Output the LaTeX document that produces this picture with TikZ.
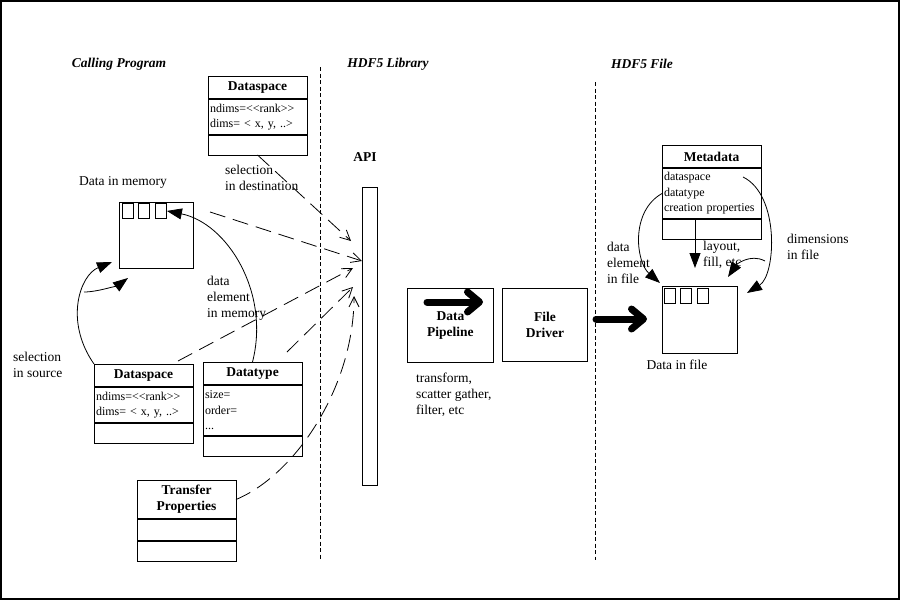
\documentclass[tikz,border=0pt]{standalone}
\usepackage{fontspec}
\setmainfont{Liberation Serif}
\usetikzlibrary{positioning,arrows.meta}

\begin{document}
\begin{tikzpicture}[x=1pt, y=-1pt,
    part/.style={draw, line width=0.9pt, minimum width=99pt, inner sep=2pt, outer sep=0pt},
    title/.style={part, font=\fontsize{13.5}{16}\selectfont\bfseries, align=center},
    attrs/.style={part, font=\fontsize{12}{15.5}\selectfont, align=left, text width=95pt},
    divider/.style={line width=2pt},
    note/.style={inner sep=0pt, font=\fontsize{13.5}{16}\selectfont, align=left},
    heading/.style={inner sep=0pt, font=\fontsize{13.5}{16}\selectfont\bfseries\itshape},
    block/.style={draw, line width=0.9pt, inner sep=0pt, anchor=north west},
    cell/.style={draw, line width=0.9pt, minimum width=11pt, minimum height=15pt, inner sep=0pt, anchor=north west},
    lane/.style={line width=1pt, dash pattern=on 4pt off 2.5pt},
    call/.style={line width=0.8pt, dash pattern=on 16pt off 8pt, -{Straight Barb[length=10pt, width=10pt]}},
    link/.style={line width=0.8pt, -{Triangle[length=15pt, width=11pt]}},
    flow/.style={line width=7pt, line cap=round, -{Straight Barb[length=12pt, width=20pt, round]}}
]
    \useasboundingbox (0,0) rectangle (900,600);
    \draw[line width=2pt] (1,1) rectangle (899,599);

    % lanes
    \node[heading] (hProg) at (119,64) {Calling Program};
    \node[heading] (hLib) at (388,64) {HDF5 Library};
    \node[heading] (hFile) at (642,64) {HDF5 File};
    \coordinate (laneA1) at (320,67);
    \coordinate (laneA2) at (320,560);
    \coordinate (laneB1) at (595,82);
    \coordinate (laneB2) at (595,560);
    \draw[lane] (laneA1) -- (laneA2);
    \draw[lane] (laneB1) -- (laneB2);

    % destination dataspace
    \node[title, minimum height=23pt, anchor=north west] (destT) at (208,76) {Dataspace};
    \node[attrs, minimum height=36pt, below=0pt of destT] (destA) {ndims=<{}<rank>{}>\\dims= < x, y, ..>};
    \node[part, minimum height=20pt, below=0pt of destA] (destE) {};
    \draw[divider] (destT.south west) -- (destT.south east);
    \draw[divider] (destA.south west) -- (destA.south east);

    % source dataspace
    \node[title, minimum height=23pt, anchor=north west] (srcT) at (94,364) {Dataspace};
    \node[attrs, minimum height=36pt, below=0pt of srcT] (srcA) {ndims=<{}<rank>{}>\\dims= < x, y, ..>};
    \node[part, minimum height=20pt, below=0pt of srcA] (srcE) {};
    \draw[divider] (srcT.south west) -- (srcT.south east);
    \draw[divider] (srcA.south west) -- (srcA.south east);

    % datatype
    \node[title, minimum height=23pt, anchor=north west] (typeT) at (203,362) {Datatype};
    \node[attrs, minimum height=51pt, below=0pt of typeT] (typeA) {size=\\order=\\...};
    \node[part, minimum height=20pt, below=0pt of typeA] (typeE) {};
    \draw[divider] (typeT.south west) -- (typeT.south east);
    \draw[divider] (typeA.south west) -- (typeA.south east);

    % transfer properties
    \node[title, minimum height=39pt, anchor=north west] (xferT) at (137,480) {Transfer\\Properties};
    \node[part, minimum height=22pt, below=0pt of xferT] (xferA) {};
    \node[part, minimum height=20pt, below=0pt of xferA] (xferE) {};
    \draw[divider] (xferT.south west) -- (xferT.south east);
    \draw[divider] (xferA.south west) -- (xferA.south east);

    % metadata
    \node[title, minimum height=23pt, anchor=north west] (metaT) at (662,145) {Metadata};
    \node[attrs, minimum height=51pt, below=0pt of metaT] (metaA) {dataspace\\datatype\\creation properties};
    \node[part, minimum height=20pt, below=0pt of metaA] (metaE) {};
    \draw[divider] (metaT.south west) -- (metaT.south east);
    \draw[divider] (metaA.south west) -- (metaA.south east);

    % data in memory / in file
    \node[note] (memLbl) at (123,182) {Data in memory};
    \node[block, minimum width=74pt, minimum height=66pt] (mem) at (119,202) {};
    \node[cell] (mem1) at (122,203) {};
    \node[cell] (mem2) at (138,203) {};
    \node[cell] (mem3) at (155,203) {};
    \node[block, minimum width=75pt, minimum height=67pt] (file) at (662,286) {};
    \node[cell] (file1) at (664,288) {};
    \node[cell] (file2) at (680,288) {};
    \node[cell] (file3) at (697,288) {};
    \node[note] (fileLbl) at (677,365) {Data in file};

    % library
    \node[note, font=\fontsize{13.5}{16}\selectfont\bfseries] (apiLbl) at (365,157) {API};
    \node[block, minimum width=15pt, minimum height=298pt] (api) at (362,187) {};
    \node[block, minimum width=86pt, minimum height=74pt, align=center,
        font=\fontsize{13.5}{16}\selectfont\bfseries] (pipe) at (407,288) {Data\\Pipeline};
    \node[block, minimum width=85pt, minimum height=73pt, align=center,
        font=\fontsize{13.5}{16}\selectfont\bfseries] (driver) at (502,288) {File\\Driver};
    \node[note, anchor=west] (pipeLbl) at (416,395) {transform,\\scatter gather,\\filter, etc};

    % labels
    \node[note, anchor=west] (dstLbl) at (225,178) {selection\\in destination};
    \node[note, anchor=west] (elemLbl) at (207,298) {data\\element\\in memory};
    \node[note, anchor=west] (srcLbl) at (13,365) {selection\\in source};
    \node[note, anchor=west] (felemLbl) at (607,263) {data\\element\\in file};
    \node[note, anchor=west] (layLbl) at (703,255) {layout,\\fill, etc};
    \node[note, anchor=west] (dimLbl) at (787,247) {dimensions\\in file};

    % calls into the API
    \coordinate (memOut) at (210,212);
    \coordinate (srcOut) at (178,361);
    \coordinate (typeOut) at (287,352);
    \coordinate (apiA) at (351,241);
    \coordinate (apiB) at (362,261);
    \coordinate (apiC) at (353,268);
    \coordinate (apiD) at (353,287);
    \coordinate (apiE) at (354,296);
    \draw[call] (destE.south) -- (apiA);
    \draw[call] (memOut) -- (apiB);
    \draw[call] (srcOut) -- (apiC);
    \draw[call] (typeOut) -- (apiD);
    \draw[call] (xferT.east) .. controls +(60,-25) and +(0,90) .. (apiE);

    % memory side
    \coordinate (selTip) at (112,262);
    \coordinate (selMid) at (84,292);
    \coordinate (selTip2) at (128,278);
    \draw[link] (typeT.north) .. controls +(18,-70) and +(60,12) .. (mem3.east);
    \draw[link] (srcT.north west) .. controls +(-30,-43) and +(-32,13) .. (selTip);
    \draw[link] (selMid) .. controls +(15,0) and +(-8,6) .. (selTip2);

    % file side
    \coordinate (metaOut) at (695,219);
    \coordinate (fileIn) at (695,268);
    \coordinate (fileTipA) at (660,283);
    \coordinate (dimOut) at (743,177);
    \coordinate (fileTipB) at (747,293);
    \coordinate (fillOut) at (765,261);
    \coordinate (fillTip) at (728,277);
    \draw[link] (metaOut) -- (fileIn);
    \draw[link] (metaA.west) .. controls +(-32,18) and +(-24,-21) .. (fileTipA);
    \draw[link] (dimOut) .. controls +(37,18) and +(29,-18) .. (fileTipB);
    \draw[link] (fillOut) .. controls +(-15,-8) and +(8,-12) .. (fillTip);

    % data flow
    \coordinate (pipeA) at (427,302);
    \coordinate (pipeB) at (483,302);
    \coordinate (driverOut) at (596,319);
    \coordinate (fileOut) at (647,319);
    \draw[flow] (pipeA) -- (pipeB);
    \draw[flow] (driverOut) -- (fileOut);
\end{tikzpicture}
\end{document}
